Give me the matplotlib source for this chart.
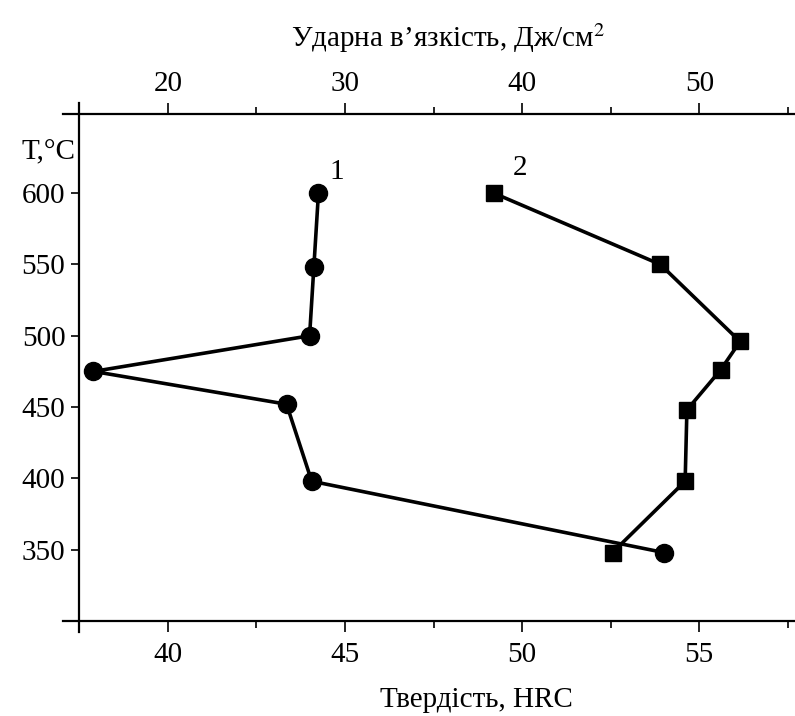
import matplotlib
matplotlib.use("Agg")
import matplotlib.pyplot as plt

plt.rcParams['font.family'] = ['Liberation Serif', 'DejaVu Serif']
plt.rcParams['mathtext.fontset'] = 'stix'

# Series 1 (circles) – hardness, HRC (bottom axis)
temp1 = [600, 548, 500, 475, 452, 398, 348]
hrc1 = [44.25, 44.12, 44.0, 37.9, 43.35, 44.06, 54.0]

# Series 2 (squares) – impact toughness, J/cm^2 (top axis)
temp2 = [600, 550, 496, 476, 448, 398, 348]
kcu2 = [38.4, 47.8, 52.3, 51.2, 49.3, 49.2, 45.1]

y_ticks = [350, 400, 450, 500, 550, 600]
bottom_ticks = [40, 45, 50, 55]
top_ticks = [20, 30, 40, 50]

FS = 21
fig = plt.figure(figsize=(7.95, 7.16), dpi=100)
ax = fig.add_axes([79.3/795, (716-621)/716, (805.6-79.3)/795, (621-114)/716])
ax.set_xlim(37.5, 58)
ax.set_ylim(300, 655.5)
ax2 = ax.twiny()
ax2.set_xlim(20 + (37.5-40)*2, 20 + (58-40)*2)

for a in (ax, ax2):
    for s in a.spines.values():
        s.set_visible(False)
    a.set_facecolor('none')

ax.spines['left'].set_visible(True)
ax.spines['left'].set_bounds(292.4, 663.3)
ax.spines['bottom'].set_visible(True)
ax.spines['bottom'].set_bounds(37.05, 58)
ax2.spines['top'].set_visible(True)
ax2.spines['top'].set_bounds(14.1, 56)
for s in (ax.spines['left'], ax.spines['bottom'], ax2.spines['top']):
    s.set_linewidth(1.6)
    s.set_color('black')

ax.set_yticks(y_ticks)
ax.set_xticks(bottom_ticks)
ax.set_xticks([42.5, 47.5, 52.5, 57.5], minor=True)
ax2.set_xticks(top_ticks)
ax2.set_xticks([25, 35, 45, 55], minor=True)

ax.tick_params(axis='y', direction='out', length=6, width=1.2, labelsize=FS, pad=4)
ax.tick_params(axis='x', which='major', direction='out', length=8, width=1.2, labelsize=FS, pad=7)
ax.tick_params(axis='x', which='minor', direction='out', length=5, width=1.2)
ax2.tick_params(axis='x', which='major', direction='out', length=8, width=1.2, labelsize=FS, pad=4)
ax2.tick_params(axis='x', which='minor', direction='out', length=5, width=1.2)
ax.tick_params(axis='y', which='minor', left=False)

ax.plot(hrc1, temp1, color='black', lw=2.6, marker='o', ms=13, zorder=3)
ax2.plot(kcu2, temp2, color='black', lw=2.6, marker='s', ms=12, zorder=3)

ax.annotate('1', xy=(hrc1[0], temp1[0]), xytext=(13, 15), textcoords='offset points',
            ha='center', va='center', fontsize=FS)
ax2.annotate('2', xy=(kcu2[0], temp2[0]), xytext=(19, 18), textcoords='offset points',
             ha='center', va='center', fontsize=FS)

fig.text(476/795, 1 - 700/716, 'Твердість, HRC', ha='center', va='center', fontsize=FS)
fig.text(448/795, 1 - 38/716, 'Ударна в’язкість, Дж/см$^{2}$', ha='center', va='center', fontsize=FS)
fig.text(48/795, 1 - 152/716, 'T,°C', ha='center', va='center', fontsize=FS)

fig.savefig('out.png', dpi=100)
